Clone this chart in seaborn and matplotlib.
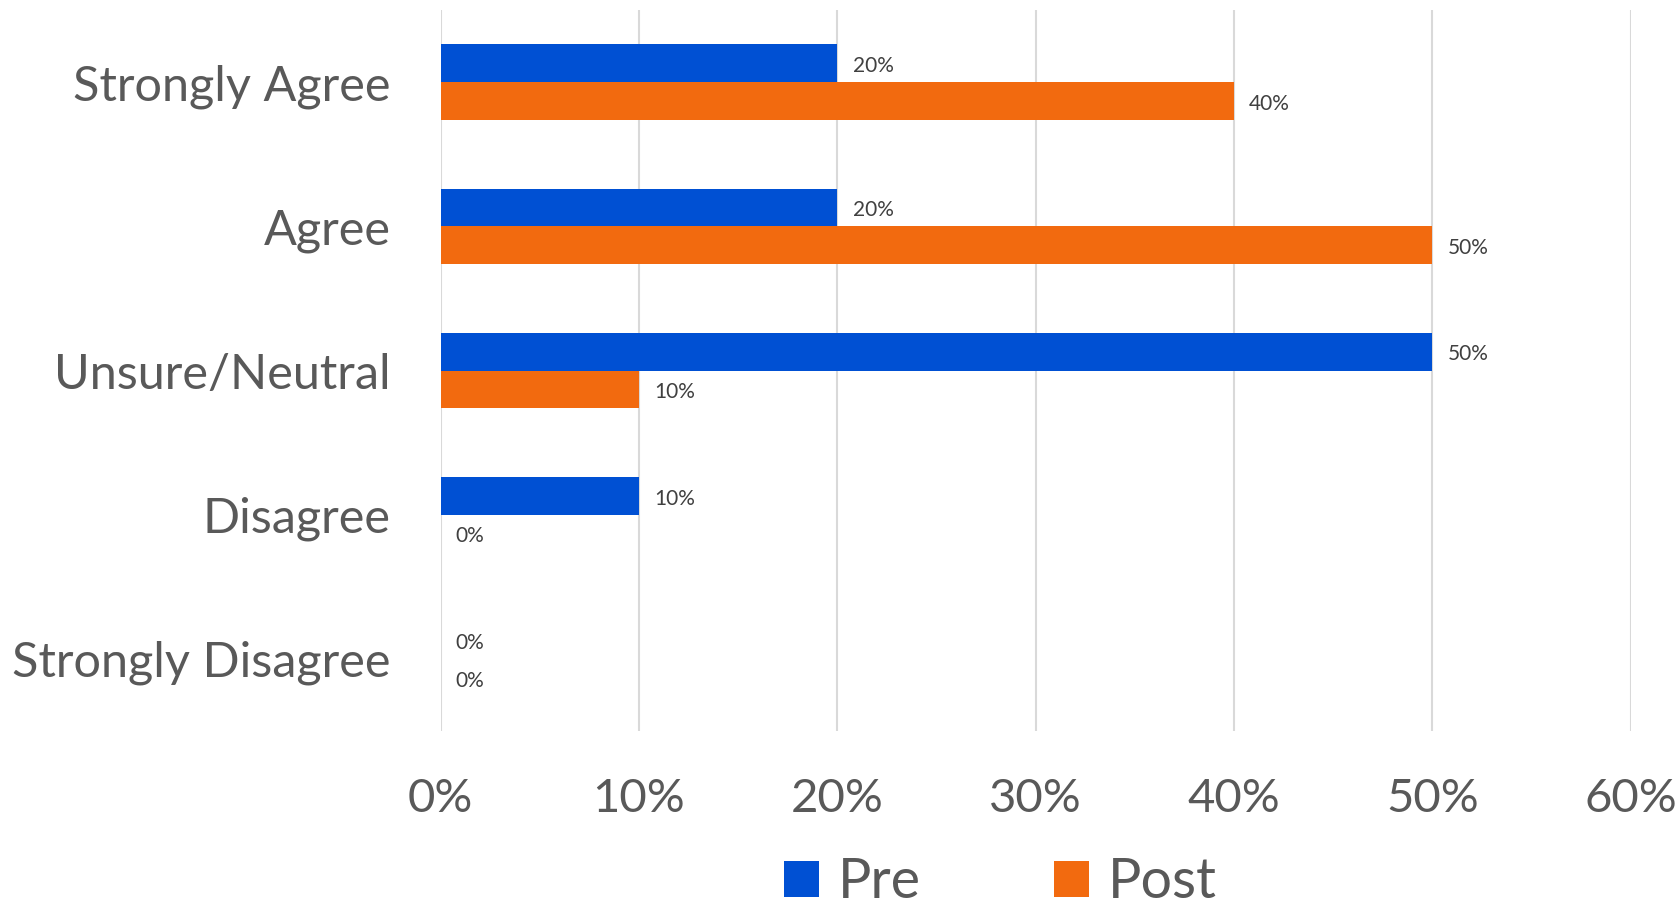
import matplotlib
matplotlib.use("Agg")
import matplotlib.pyplot as plt
from matplotlib.ticker import PercentFormatter, MultipleLocator
import seaborn as sns
import pandas as pd

# Survey responses, share of participants per answer
categories = ["Strongly Agree", "Agree", "Unsure/Neutral", "Disagree", "Strongly Disagree"]
pre_values = [0.20, 0.20, 0.50, 0.10, 0.00]
post_values = [0.40, 0.50, 0.10, 0.00, 0.00]
groups = ["Pre", "Post"]
colors = ["#0050D3", "#F26A0F"]

df = pd.DataFrame({
    "category": categories * 2,
    "group": [groups[0]] * len(categories) + [groups[1]] * len(categories),
    "value": pre_values + post_values,
})

sns.set_theme(style="white")
plt.rcParams["font.family"] = ["Lato", "DejaVu Sans"]

fig = plt.figure(figsize=(16.81, 9.13), dpi=100)
ax = fig.add_axes([0.2621, 0.1993, 0.7079, 0.7897])

sns.barplot(data=df, y="category", x="value", hue="group", order=categories,
            hue_order=groups, palette=colors, orient="h", width=0.523,
            linewidth=0, saturation=1, ax=ax, errorbar=None)

ax.set_xlim(0, 0.6)
ax.xaxis.set_major_locator(MultipleLocator(0.1))
ax.xaxis.set_major_formatter(PercentFormatter(1.0, decimals=0))
ax.grid(axis="x", color="#D9D9D9", linewidth=1.5)
ax.grid(axis="y", visible=False)
ax.set_axisbelow(True)
for s in ax.spines.values():
    s.set_visible(False)
ax.set_xlabel("")
ax.set_ylabel("")
ax.tick_params(axis="x", length=0, pad=34, labelsize=34, labelcolor="#595959")
ax.tick_params(axis="y", length=0, pad=36, labelsize=35, labelcolor="#595959")

for cont in ax.containers:
    texts = ax.bar_label(cont, labels=[f"{v * 100:.0f}%" for v in cont.datavalues],
                         padding=11, fontsize=15, color="#404040")
    for t in texts:
        dx, dy = t.xyann
        t.xyann = (dx, dy - 2)

handles, labels = ax.get_legend_handles_labels()
ax.get_legend().remove()
fig.legend(handles, labels, loc="center", bbox_to_anchor=(0.595, 0.033),
           ncol=2, frameon=False, fontsize=40, labelcolor="#595959",
           handlelength=0.63, handleheight=0.63, handletextpad=0.34,
           columnspacing=2.4, borderpad=0.1)

fig.savefig("out.png", dpi=100)
